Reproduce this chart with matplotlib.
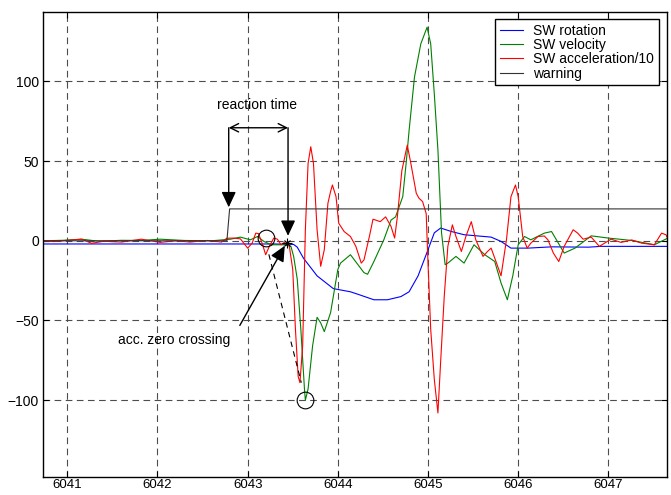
import numpy as np
import matplotlib
matplotlib.use("Agg")
import matplotlib.pyplot as plt

plt.rcParams['font.family'] = ['Liberation Sans', 'DejaVu Sans']

# SW rotation
rot_t = [6040.73, 6042.50, 6043.30, 6043.51, 6043.55, 6043.62, 6043.77, 6043.95,
         6044.14, 6044.22, 6044.40, 6044.55, 6044.70, 6044.79, 6044.89, 6045.00,
         6045.07, 6045.14, 6045.26, 6045.40, 6045.70, 6045.81, 6045.92, 6046.11,
         6046.37, 6046.78, 6046.92, 6047.66]
rot = [-2.0, -2.0, -2.0, -2.3, -4.0, -11.0, -22.0, -30.0,
       -32.0, -33.5, -37.0, -37.0, -35.0, -32.0, -22.0, -5.6,
       5.0, 8.0, 5.8, 3.8, 2.3, -0.4, -4.6, -4.6,
       -3.8, -4.0, -3.5, -3.5]

# SW velocity
vel_t = [6040.73, 6040.95, 6041.16, 6041.35, 6041.60, 6041.82, 6042.03, 6042.30,
         6042.60, 6042.81, 6042.92, 6043.03, 6043.11, 6043.18, 6043.26, 6043.40,
         6043.48, 6043.51, 6043.55, 6043.59, 6043.63, 6043.64, 6043.67, 6043.72,
         6043.77, 6043.81, 6043.85, 6043.92, 6044.00, 6044.03, 6044.14, 6044.29,
         6044.33, 6044.40, 6044.51, 6044.59, 6044.64, 6044.72, 6044.76, 6044.79,
         6044.85, 6044.92, 6044.99, 6045.03, 6045.07, 6045.11, 6045.15, 6045.19,
         6045.22, 6045.31, 6045.40, 6045.51, 6045.63, 6045.74, 6045.81, 6045.88,
         6045.94, 6046.00, 6046.07, 6046.14, 6046.29, 6046.37, 6046.51, 6046.63,
         6046.81, 6047.00, 6047.26, 6047.51, 6047.66]
vel = [0.0, 0.3, 1.0, -0.3, 0.3, 0.2, 1.0, 0.2,
       0.0, 1.0, 2.3, 0.6, 2.7, -0.4, -2.5, -2.5,
       -3.5, -9.8, -24.0, -55.6, -93.0, -100.0, -93.0, -66.0,
       -48.0, -51.5, -57.0, -45.0, -18.0, -14.0, -8.75, -20.0,
       -21.0, -13.0, 0.6, 13.0, 15.0, 27.7, 50.0, 69.0,
       102.7, 123.5, 134.0, 123.5, 92.0, 57.0, 5.0, -15.0,
       -14.0, -9.8, -14.0, -2.5, -8.75, -13.0, -26.5, -37.0,
       -22.0, -2.5, 2.7, 0.6, 4.8, 5.8, -7.7, -4.6,
       3.1, 1.7, 0.2, -2.5, 1.7]

# SW acceleration/10
acc_t = [6040.73, 6040.85, 6041.00, 6041.16, 6041.27, 6041.40, 6041.60, 6041.82,
         6042.03, 6042.20, 6042.36, 6042.55, 6042.71, 6042.77, 6042.85, 6042.92,
         6043.00, 6043.05, 6043.09, 6043.12, 6043.16, 6043.20, 6043.24, 6043.29,
         6043.33, 6043.37, 6043.42, 6043.46, 6043.50, 6043.53, 6043.56, 6043.58,
         6043.61, 6043.64, 6043.67, 6043.70, 6043.73, 6043.77, 6043.81, 6043.85,
         6043.89, 6043.92, 6043.94, 6043.98, 6044.01, 6044.07, 6044.14, 6044.20,
         6044.26, 6044.29, 6044.35, 6044.39, 6044.42, 6044.47, 6044.53, 6044.59,
         6044.63, 6044.66, 6044.71, 6044.77, 6044.81, 6044.87, 6044.90, 6044.94,
         6044.98, 6045.00, 6045.03, 6045.07, 6045.11, 6045.14, 6045.18, 6045.22,
         6045.27, 6045.31, 6045.37, 6045.42, 6045.48, 6045.53, 6045.61, 6045.66,
         6045.70, 6045.76, 6045.81, 6045.87, 6045.92, 6045.97, 6046.00, 6046.05,
         6046.10, 6046.14, 6046.22, 6046.29, 6046.33, 6046.39, 6046.45, 6046.51,
         6046.61, 6046.66, 6046.72, 6046.81, 6046.90, 6047.03, 6047.14, 6047.26,
         6047.37, 6047.51, 6047.59, 6047.64, 6047.66]
acc = [0.0, -0.5, 0.3, 1.0, -1.6, -0.3, -0.8, 1.0,
       -1.0, 0.0, -0.8, 0.2, -0.8, 1.6, 1.7, 1.2,
       -4.6, -1.5, 4.8, 4.5, -1.5, -8.75, -3.5, 1.7,
       1.0, -2.5, -0.5, -2.5, -18.0, -55.6, -85.0, -89.0,
       -66.0, 6.9, 48.5, 59.0, 48.5, 6.9, -16.0, -5.6,
       23.5, 31.0, 35.0, 27.7, 11.0, 5.8, 2.7, -3.5,
       -14.0, -12.0, 2.7, 13.5, 13.0, 12.0, 15.0, 9.0,
       1.7, 15.0, 44.0, 60.0, 48.5, 29.8, 26.7, 24.6,
       17.0, -14.0, -55.6, -87.0, -108.0, -76.0, -35.0, -3.5,
       10.0, 2.7, -6.7, 2.7, 12.0, 0.6, -9.8, -6.7,
       -4.6, -14.0, -22.0, 0.6, 27.7, 35.0, 27.7, 2.7,
       -4.6, -1.5, 2.7, 3.0, 0.6, -7.7, -13.0, -3.5,
       6.9, 4.8, 1.0, 2.3, -3.5, 1.0, -1.0, 0.5,
       -1.5, -2.5, 4.8, 3.75, 1.0]

# warning
warn_t = [6040.73, 6042.77, 6042.80, 6047.66]
warn = [0, 0, 20, 20]

fig = plt.figure(figsize=(6.71, 4.95), dpi=100)
ax = fig.add_axes([0.064, 0.036, 0.930, 0.940])

ax.plot(rot_t, rot, color='#0000ff', lw=0.8, label='SW rotation')
ax.plot(vel_t, vel, color='#008000', lw=0.8, label='SW velocity')
ax.plot(acc_t, acc, color='#ff0000', lw=0.8, label='SW acceleration/10')
ax.plot(warn_t, warn, color='#333333', lw=0.8, label='warning')

# annotations
ax.text(6043.107, 85.4, 'reaction time', ha='center', va='center', fontsize=10)
ax.annotate('', xy=(6042.79, 70.9), xytext=(6043.448, 70.9),
            arrowprops=dict(arrowstyle='<->,head_length=0.4,head_width=0.2',
                            mutation_scale=15, color='black', lw=1,
                            shrinkA=0, shrinkB=0))
ax.annotate('', xy=(6042.79, 21), xytext=(6042.79, 70.9),
            arrowprops=dict(arrowstyle='-|>,head_length=0.47,head_width=0.22',
                            mutation_scale=20, color='black', lw=1,
                            shrinkA=0, shrinkB=0))
ax.annotate('', xy=(6043.448, 3.1), xytext=(6043.448, 70.9),
            arrowprops=dict(arrowstyle='-|>,head_length=0.47,head_width=0.22',
                            mutation_scale=20, color='black', lw=1,
                            shrinkA=0, shrinkB=0))

ax.text(6042.19, -62.5, 'acc. zero crossing', ha='center', va='center', fontsize=10)
ax.annotate('', xy=(6043.412, -3.1), xytext=(6042.913, -53.1),
            arrowprops=dict(arrowstyle='-|>,head_length=0.47,head_width=0.22',
                            mutation_scale=20, color='black', lw=1,
                            shrinkA=0, shrinkB=0))

# zero crossing star and circles
ax.plot([6043.44], [-1.5], marker='+', ms=7, color='black', mew=0.8)
ax.plot([6043.44], [-1.5], marker='x', ms=5, color='black', mew=0.8)
ax.plot([6043.20, 6043.64], [1.7, -100], ls='none', marker='o', ms=12,
        mfc='none', mec='black', mew=0.8)
ax.plot([6043.235, 6043.595], [-8.5, -89], color='black', lw=0.8, ls=(0, (5, 4)))

ax.set_xlim(6040.73, 6047.65)
ax.set_ylim(-148.3, 143.6)
ax.set_xticks([6041, 6042, 6043, 6044, 6045, 6046, 6047])
ax.set_yticks([-100, -50, 0, 50, 100])
ax.tick_params(direction='in', top=True, right=True, length=4, labelsize=10, pad=3)
ax.tick_params(axis='x', labelsize=9.5, pad=1.5)
ax.grid(True, color='0.3', lw=0.8, ls=(0, (6, 4)))
ax.set_axisbelow(True)
for s in ax.spines.values():
    s.set_linewidth(1)

leg = ax.legend(loc='upper right', bbox_to_anchor=(0.987, 0.985), borderaxespad=0,
                fancybox=False, edgecolor='black', framealpha=1, fontsize=10,
                labelspacing=0.02, handlelength=1.7, handletextpad=0.7, borderpad=0.35)
leg.get_frame().set_linewidth(1)

fig.savefig('out.png', dpi=100)
